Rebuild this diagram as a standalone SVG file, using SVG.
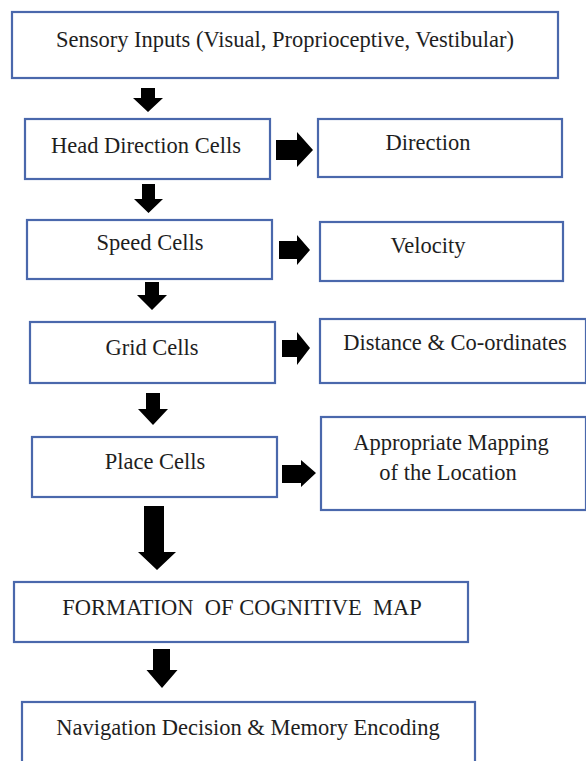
<svg xmlns="http://www.w3.org/2000/svg" width="586" height="761" viewBox="0 0 586 761">
<style>
.box{fill:#fff;stroke:#4a68ac;stroke-width:2.2}
.t{font-family:"Liberation Serif","Times New Roman",serif;font-size:22.5px;fill:#1e1e1e;text-anchor:middle;white-space:pre}
.arr{fill:#000}
</style>
<rect width="586" height="761" fill="#fff"/>
<g id="n-sensory"><rect class="box" x="12" y="12" width="546" height="66"/><text class="t" x="285" y="47">Sensory Inputs (Visual, Proprioceptive, Vestibular)</text></g>
<g id="n-headdir"><rect class="box" x="25" y="119" width="245" height="60"/><text class="t" x="146" y="153">Head Direction Cells</text></g>
<g id="n-direction"><rect class="box" x="318" y="119" width="244" height="58"/><text class="t" x="428" y="150">Direction</text></g>
<g id="n-speed"><rect class="box" x="27" y="220" width="245" height="59"/><text class="t" x="150" y="250">Speed Cells</text></g>
<g id="n-velocity"><rect class="box" x="320" y="222" width="243" height="59"/><text class="t" x="428" y="253">Velocity</text></g>
<g id="n-grid"><rect class="box" x="30" y="322" width="245" height="61"/><text class="t" x="152" y="355">Grid Cells</text></g>
<g id="n-distance"><rect class="box" x="320" y="319" width="266" height="64"/><text class="t" x="455" y="350">Distance &amp; Co-ordinates</text></g>
<g id="n-place"><rect class="box" x="32" y="437" width="245" height="60"/><text class="t" x="155" y="469">Place Cells</text></g>
<g id="n-mapping"><rect class="box" x="321" y="417" width="265" height="93"/><text class="t" x="451" y="450">Appropriate Mapping</text><text class="t" x="448" y="480">of the Location</text></g>
<g id="n-formation"><rect class="box" x="14" y="582" width="454" height="60"/><text class="t" x="242" y="615">FORMATION  OF COGNITIVE  MAP</text></g>
<g id="n-navigation"><rect class="box" x="22" y="702" width="453" height="62"/><text class="t" x="248" y="735">Navigation Decision &amp; Memory Encoding</text></g>
<g id="connectors" class="arr">
<polygon points="141,88 155,88 155,98 163,98 148,112 133,98 141,98"/>
<polygon points="142,184 155,184 155,199 163,199 148.5,213 134,199 142,199"/>
<polygon points="145,282 159,282 159,295 167,295 152,310 137,295 145,295"/>
<polygon points="146,393 160,393 160,409 168,409 153,425 138,409 146,409"/>
<polygon points="144,506 164,506 164,552 176,552 157,570 138,552 144,552"/>
<polygon points="153,649 170,649 170,670 177.5,670 162,688 146.5,670 153,670"/>
<polygon points="276,140 297,140 297,132 313,150 297,167 297,160 276,160"/>
<polygon points="279,241 297,241 297,235 310,250 297,265 297,259 279,259"/>
<polygon points="282,340 297,340 297,332 310,348 297,365 297,357 282,357"/>
<polygon points="282,465 301,465 301,460 316,473 301,487 301,483 282,483"/>
</g>
</svg>
